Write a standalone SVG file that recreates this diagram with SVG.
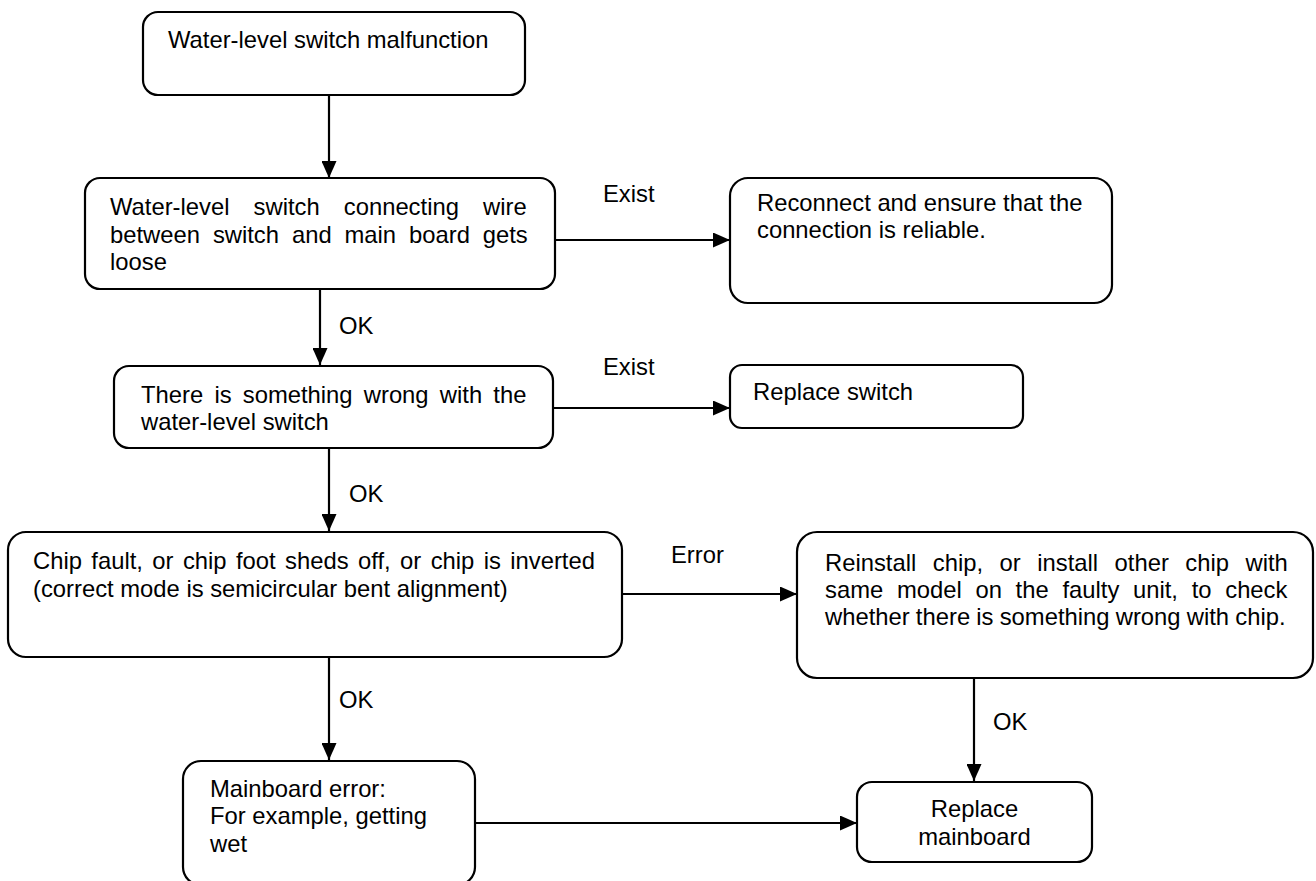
<svg xmlns="http://www.w3.org/2000/svg" width="1316" height="881" viewBox="0 0 1316 881">
<style>
.box{fill:#fff;stroke:#000;stroke-width:2.2}
.t{font-family:"Liberation Sans",Arial,sans-serif;font-size:23.8px;fill:#000}
.c{stroke:#000;stroke-width:2.2;fill:none;marker-end:url(#ah)}
</style>
<defs>
<marker id="ah" viewBox="0 0 17 15" refX="17" refY="7.5" markerWidth="17" markerHeight="15" markerUnits="userSpaceOnUse" orient="auto">
<path d="M0,0 L17,7.5 L0,15 z" fill="#000"/>
</marker>
</defs>
<rect width="1316" height="881" fill="#fff"/>
<g id="connectors">
<line class="c" x1="329" y1="95" x2="329" y2="178"/>
<line class="c" x1="320" y1="289" x2="320" y2="365"/>
<line class="c" x1="329" y1="448" x2="329" y2="531"/>
<line class="c" x1="329" y1="657" x2="329" y2="760"/>
<line class="c" x1="555" y1="240" x2="730" y2="240"/>
<line class="c" x1="553" y1="408" x2="730" y2="408"/>
<line class="c" x1="622" y1="594" x2="797" y2="594"/>
<line class="c" x1="974" y1="678" x2="974" y2="781"/>
<line class="c" x1="475" y1="823" x2="857" y2="823"/>
<text class="t" x="339" y="334">OK</text>
<text class="t" x="349" y="502">OK</text>
<text class="t" x="339" y="708">OK</text>
<text class="t" x="993" y="730">OK</text>
<text class="t" x="603" y="202">Exist</text>
<text class="t" x="603" y="375">Exist</text>
<text class="t" x="671" y="563">Error</text>
</g>
<g id="n1">
<rect class="box" x="143" y="12" width="382" height="83" rx="15"/>
<text class="t" x="168" y="48">Water-level switch malfunction</text>
</g>
<g id="n2">
<rect class="box" x="85" y="178" width="470" height="111" rx="15"/>
<text class="t" x="110" y="215" word-spacing="17.5">Water-level switch connecting wire</text>
<text class="t" x="110" y="243" word-spacing="6.3">between switch and main board gets</text>
<text class="t" x="110" y="270">loose</text>
</g>
<g id="n3">
<rect class="box" x="730" y="178" width="382" height="125" rx="18"/>
<text class="t" x="757" y="211">Reconnect and ensure that the</text>
<text class="t" x="757" y="238">connection is reliable.</text>
</g>
<g id="n4">
<rect class="box" x="114" y="366" width="439" height="82" rx="15"/>
<text class="t" x="141" y="403" word-spacing="4.6">There is something wrong with the</text>
<text class="t" x="141" y="430">water-level switch</text>
</g>
<g id="n5">
<rect class="box" x="730" y="365" width="293" height="63" rx="12"/>
<text class="t" x="753" y="400">Replace switch</text>
</g>
<g id="n6">
<rect class="box" x="8" y="532" width="614" height="125" rx="18"/>
<text class="t" x="33" y="569" word-spacing="2.8">Chip fault, or chip foot sheds off, or chip is inverted</text>
<text class="t" x="33" y="597">(correct mode is semicircular bent alignment)</text>
</g>
<g id="n7">
<rect class="box" x="797" y="532" width="516" height="146" rx="20"/>
<text class="t" x="825" y="571" word-spacing="9.9">Reinstall chip, or install other chip with</text>
<text class="t" x="825" y="598" word-spacing="7.1">same model on the faulty unit, to check</text>
<text class="t" x="825" y="625" word-spacing="-0.4">whether there is something wrong with chip.</text>
</g>
<g id="n8">
<rect class="box" x="183" y="761" width="292" height="124" rx="18"/>
<text class="t" x="210" y="797">Mainboard error:</text>
<text class="t" x="210" y="824">For example, getting</text>
<text class="t" x="210" y="852">wet</text>
</g>
<g id="n9">
<rect class="box" x="857" y="782" width="235" height="80" rx="15"/>
<text class="t" x="974.5" y="817" text-anchor="middle">Replace</text>
<text class="t" x="974.5" y="845" text-anchor="middle">mainboard</text>
</g>
</svg>
